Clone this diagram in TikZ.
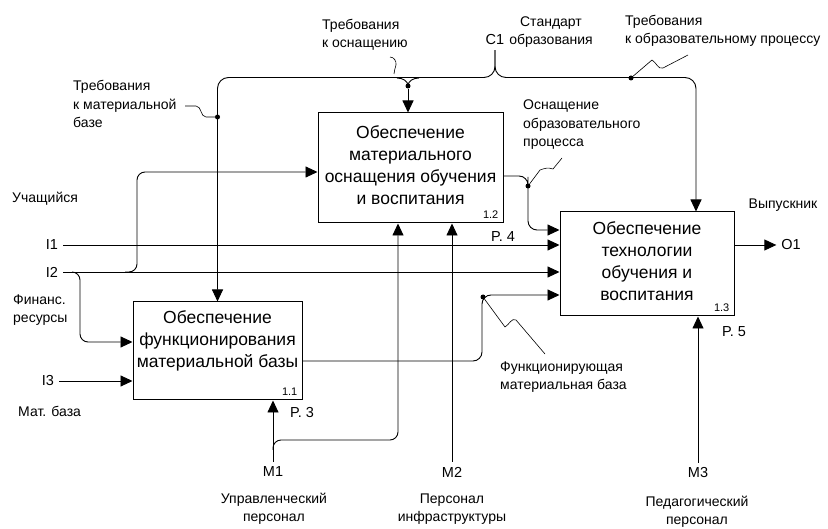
\documentclass[tikz,border=0pt]{standalone}
\usepackage{fontspec}
\setmainfont{Liberation Sans}
\usetikzlibrary{arrows.meta}

\begin{document}
\begin{tikzpicture}[x=1pt, y=-1pt]
	\tikzstyle{func}  = [rectangle, draw=black, line width=1pt, inner sep=0pt]
	\tikzstyle{ftext} = [align=center, font=\fontsize{17.5}{22}\selectfont, inner sep=0pt]
	\tikzstyle{num}   = [font=\fontsize{11}{13}\selectfont, inner sep=5pt, anchor=south east]
	\tikzstyle{ext}   = [font=\fontsize{14.5}{17}\selectfont, inner sep=2pt, outer sep=3pt]
	\tikzstyle{note}  = [font=\fontsize{14}{18.5}\selectfont, align=left, inner sep=0pt]
	\tikzstyle{flow}  = [line width=0.9pt, -{Triangle[length=12pt, width=11pt]}]
	\tikzstyle{squig} = [line width=0.6pt]
	\tikzstyle{dot}   = [circle, fill=black, inner sep=0pt, minimum size=5pt]

	\useasboundingbox (0,0) rectangle (828,529);
%	\draw[step=50pt, gray!30] (0,0) grid (828,529);

	\node[func, minimum width=169pt, minimum height=98pt] (b11) at (217.5,351) {};
	\node[func, minimum width=185pt, minimum height=110pt] (b12) at (410.5,168) {};
	\node[func, minimum width=174pt, minimum height=104pt] (b13) at (647,264) {};

	\node[ftext] (t11) at (217.5,341) {Обеспечение\\функционирования\\материальной базы};
	\node[ftext] (t12) at (410.5,165) {Обеспечение\\материального\\оснащения обучения\\и воспитания};
	\node[ftext] (t13) at (647,261) {Обеспечение\\технологии\\обучения и\\воспитания};

	\foreach \fn/\id/\k in {b11/1.1/11, b12/1.2/12, b13/1.3/13}
		\node[num] (n\k) at (\fn.south east) {\id};

	\foreach \name/\x/\y in {I1/52/245, I2/52/272, I3/48/381, C1/495/40, O1/791/245, M1/273/472, M2/452/472, M3/698/473}
		\node[ext] (\name) at (\x, \y) {\name};

	\node[ext] (p3) at (302,413) {P. 3};
	\node[ext] (p4) at (503,237) {P. 4};
	\node[ext] (p5) at (734,332) {P. 5};

	% straight arrows
	\foreach \from/\to in {I1/b13, I2/b13, I3/b11}
		\draw[flow] (\from) -- (\from -| \to.west);
	\foreach \from/\to in {M1/b11, M2/b12, M3/b13}
		\draw[flow] (\from) -- (\from |- \to.south);
	\draw[flow] ([yshift=19pt]b13.east) -- (O1);

	% I2 branches
	\coordinate (i2u) at (125,272);
	\coordinate (i2d) at (72,272);
	\draw[flow, rounded corners=8pt] (i2u) -- ++(12,0) |- ([yshift=-4pt]b12.west);
	\draw[flow, rounded corners=8pt] (i2d) -- ++(8,0) |- ([yshift=9pt]b11.west);

	% C1
	\draw[flow, rounded corners=11pt] (C1.south) |- ([yshift=224pt]b11.north) -- (b11.north);
	\draw[flow, rounded corners=11pt] (C1.south) |- ([xshift=49pt, yshift=134pt]b13.north) -- ([xshift=49pt]b13.north);
	\node[dot] (d1) at (217.5,117) {};
	\node[dot] (d3) at (631,78) {};
	\node[dot] (d2) at (408,86) {};
	\draw[flow] (d2) -- (d2 |- b12.north);
	\draw[line width=0.9pt] (d2.center) to[out=90, in=0] (397,78);
	\draw[line width=0.9pt] (d2.center) to[out=90, in=180] (419,78);

	% outputs
	\node[dot] (d4) at (528,186) {};
	\draw[flow, rounded corners=9pt] ([yshift=-8pt]b12.east) -| (d4.center) |- ([yshift=34pt]b13.west);
	\coordinate (j1) at (482,295);
	\draw[flow, rounded corners=9pt] ([yshift=-10pt]b11.east) -| (j1) -- ([yshift=-31pt]b13.west);
	\node[dot] (d5) at (483,297) {};

	% M1 branch
	\coordinate (m1b) at (273,450);
	\draw[flow, rounded corners=8pt] (m1b) -- ++(0,-10) -| ([xshift=-12.5pt]b12.south);

	\node[note, anchor=west] (lpupil) at (12,199) {Учащийся};
	\node[note, anchor=west] (lfin) at (13,310) {Финанс.\\ресурсы};
	\node[note, anchor=west] (lmat) at (18,411) {Мат. база};
	\node[note, anchor=west] (lreqbase) at (73,104) {Требования\\к материальной\\базе};
	\node[note, anchor=west] (lreqeq) at (322,35) {Требования\\к оснащению};
	\node[note, align=center] (lstd) at (551,32) {Стандарт\\образования};
	\node[note, anchor=west] (lreqproc) at (625,31) {Требования\\к образовательному процессу};
	\node[note, anchor=west] (lequip) at (523,125) {Оснащение\\образовательного\\процесса};
	\node[note, anchor=west] (lfunc) at (500,377) {Функционирующая\\материальная база};
	\node[note] (lgrad) at (783,205) {Выпускник};
	\node[note, align=center] (lmgmt) at (274,509) {Управленческий\\персонал};
	\node[note, align=center] (linfra) at (452,509) {Персонал\\инфраструктуры};
	\node[note, align=center] (lped) at (697,512) {Педагогический\\персонал};

	% squiggles
	\draw[squig] (185,106) -- (196,106) to[out=0, in=180] (206,117) -- (d1);
	\draw[squig] (390,57) to[out=0, in=80] (396,65) to[out=260, in=90] (394,74);
	\draw[squig] (d3) -- (652,60) to[out=-30, in=200] (663,68) -- (688,55);
	\draw[squig] (562,158) -- (553,169) to[out=160, in=20] (540,170) -- (d4);
	\draw[squig] (d5) -- (505,327) to[out=30, in=150] (516,320) -- (545,354);
\end{tikzpicture}
\end{document}
